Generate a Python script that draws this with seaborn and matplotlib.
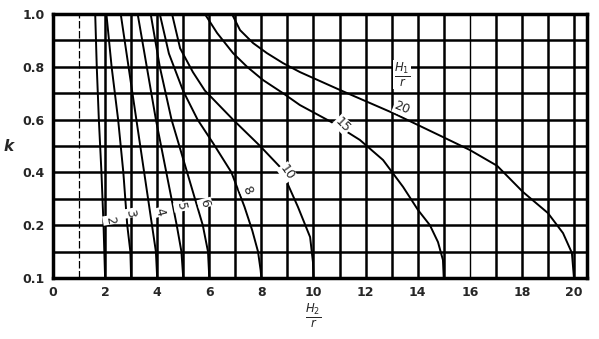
import numpy as np
import pandas as pd
import matplotlib
matplotlib.use("Agg")
import matplotlib.pyplot as plt
import seaborn as sns

# ---- data (x = H2/r, y = axis position of k; bottom grid line labelled 0.1) ----
c2_x = [1.62, 1.68, 1.76, 1.86, 1.94, 2.0]
c2_y = [1.0, 0.8, 0.6, 0.4, 0.2, 0.0]
c3_x = [2.05, 2.25, 2.5, 2.7, 2.85, 2.97, 3.0]
c3_y = [1.0, 0.8, 0.6, 0.4, 0.2, 0.1, 0.0]
c4_x = [2.6, 2.9, 3.2, 3.5, 3.8, 3.95, 4.0]
c4_y = [1.0, 0.8, 0.6, 0.4, 0.2, 0.1, 0.0]
c5_x = [3.25, 3.6, 3.95, 4.35, 4.75, 4.93, 5.0]
c5_y = [1.0, 0.8, 0.6, 0.4, 0.2, 0.1, 0.0]
c6_x = [3.75, 4.1, 4.55, 5.15, 5.75, 5.95, 6.0]
c6_y = [1.0, 0.8, 0.6, 0.4, 0.2, 0.1, 0.0]
c8_x = [4.1, 4.45, 4.99, 5.55, 6.15, 6.85, 7.35, 7.65, 7.87, 7.97, 8.0]
c8_y = [1.0, 0.85, 0.71, 0.6, 0.51, 0.4, 0.27, 0.18, 0.1, 0.03, 0.0]
c10_x = [4.57, 4.88, 5.37, 5.83, 6.91, 7.95, 8.72, 9.4, 9.87, 9.98, 10.0]
c10_y = [1.0, 0.87, 0.78, 0.71, 0.6, 0.5, 0.42, 0.27, 0.155, 0.06, 0.0]
c15_x = [5.83, 6.3, 6.91, 7.45, 8.06, 8.83, 9.48, 10.7, 11.78, 12.67, 13.44, 14.01, 14.47, 14.78, 14.97, 15.0]
c15_y = [1.0, 0.928, 0.852, 0.8, 0.75, 0.70, 0.655, 0.59, 0.523, 0.447, 0.345, 0.258, 0.2, 0.136, 0.068, 0.0]
c20_x = [6.87, 7.18, 7.68, 8.21, 8.83, 9.48, 11.02, 13.05, 14.97, 16.0, 17.05, 18.04, 19.0, 19.58, 19.92, 20.0]
c20_y = [1.0, 0.939, 0.89, 0.852, 0.814, 0.78, 0.712, 0.625, 0.534, 0.485, 0.425, 0.326, 0.246, 0.17, 0.095, 0.0]

curve_names = ["2", "3", "4", "5", "6", "8", "10", "15", "20"]
curve_xs = [c2_x, c3_x, c4_x, c5_x, c6_x, c8_x, c10_x, c15_x, c20_x]
curve_ys = [c2_y, c3_y, c4_y, c5_y, c6_y, c8_y, c10_y, c15_y, c20_y]

x_tick_vals = [0, 2, 4, 6, 8, 10, 12, 14, 16, 18, 20]
y_tick_pos = [0.0, 0.2, 0.4, 0.6, 0.8, 1.0]
y_tick_labels = ["0.1", "0.2", "0.4", "0.6", "0.8", "1.0"]

# curve label positions / rotations
lab_text = ["2", "3", "4", "5", "6", "8", "10", "15", "20"]
lab_x = [2.19, 2.96, 4.1, 4.91, 5.83, 7.45, 8.98, 11.13, 13.4]
lab_y = [0.22, 0.246, 0.25, 0.27, 0.284, 0.333, 0.40, 0.58, 0.644]
lab_rot = [-80, -80, -75, -80, -75, -65, -55, -45, -22]

sns.set_theme(style="white")
plt.rcParams['font.family'] = ['DejaVu Sans']

fig = plt.figure(figsize=(5.99, 3.39), dpi=100)
ax = fig.add_axes([53/599, 1-278/339, (587-53)/599, (278-14)/339])

for name, xs, ys in zip(curve_names, curve_xs, curve_ys):
    df = pd.DataFrame({"x": xs, "y": ys})
    sns.lineplot(data=df, x="x", y="y", sort=False, estimator=None,
                 color="black", lw=1.4, ax=ax)

ax.set_xlim(0, 20.5)
ax.set_ylim(0, 1.0)
ax.set_xticks(np.arange(0, 21, 1))
ax.set_xticklabels([str(v) if v in x_tick_vals else "" for v in range(21)])
ax.set_yticks(np.round(np.arange(0, 1.01, 0.1), 2))
ylabs = []
for v in np.round(np.arange(0, 1.01, 0.1), 2):
    lab = ""
    for p, t in zip(y_tick_pos, y_tick_labels):
        if abs(p - v) < 1e-6:
            lab = t
    ylabs.append(lab)
ax.set_yticklabels(ylabs)
ax.grid(True, color="black", lw=1.8)
gl = ax.get_xgridlines()
gl[1].set_linewidth(0.9)
gl[1].set_linestyle((0, (6, 2)))
gl[16].set_linewidth(1.0)
ax.tick_params(length=0, labelsize=9, pad=6)
for lab in ax.get_xticklabels() + ax.get_yticklabels():
    lab.set_fontweight("bold")
for s in ax.spines.values():
    s.set_color("black")
    s.set_linewidth(2.5)
ax.set_xlabel("")
ax.set_ylabel("")

for t, x, y, r in zip(lab_text, lab_x, lab_y, lab_rot):
    ax.text(x, y, t, rotation=r, ha="center", va="center", fontsize=9,
            bbox=dict(facecolor="white", edgecolor="none", pad=0.5))

ax.text(13.4, 0.77, r"$\frac{H_1}{r}$", ha="center", va="center", fontsize=12,
        bbox=dict(facecolor="white", edgecolor="none", pad=0.5))

fig.text(313/599, 1-316/339, r"$\frac{H_2}{r}$", ha="center", va="center", fontsize=12)
fig.text(9/599, 1-146/339, "k", ha="center", va="center", fontsize=11,
         fontweight="bold", style="italic")

fig.savefig("out.png", dpi=100, facecolor="white")
